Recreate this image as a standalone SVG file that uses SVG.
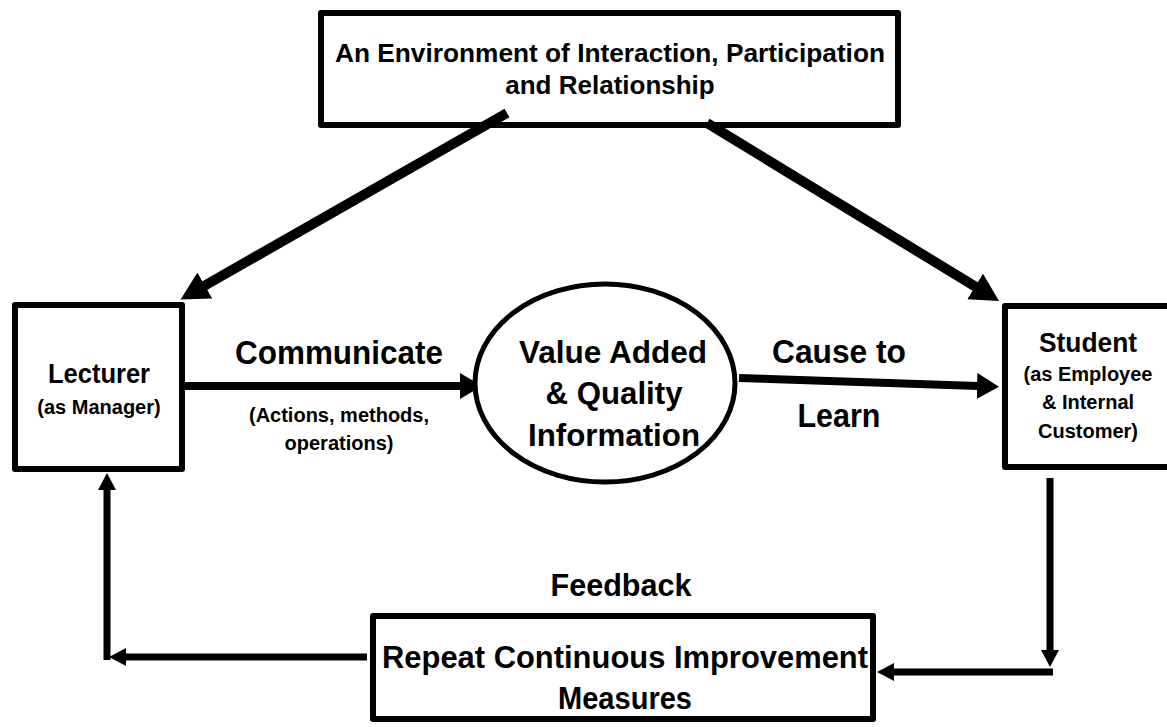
<svg xmlns="http://www.w3.org/2000/svg" width="1167" height="727" viewBox="0 0 1167 727">
  <style>
    .box { fill: #ffffff; stroke: #000000; stroke-width: 6; stroke-linejoin: round; }
    .oval { fill: #ffffff; stroke: #000000; stroke-width: 5; }
    .t { font-family: "Liberation Sans", Arial, sans-serif; font-weight: bold; fill: #000000; text-anchor: middle; }
    .big { font-size: 33px; }
    .mid { font-size: 26px; }
    .sm { font-size: 20px; }
    .conn { fill: none; stroke: #000000; }
    .diag { stroke-width: 10; }
    .main { stroke-width: 8; }
    .fb { stroke-width: 7; }
  </style>
  <defs>
    <marker id="headL" markerUnits="userSpaceOnUse" markerWidth="30" markerHeight="32" refX="1" refY="15" orient="auto">
      <path d="M0,0 L28,15 L0,30 Z" fill="#000000"/>
    </marker>
    <marker id="headM" markerUnits="userSpaceOnUse" markerWidth="24" markerHeight="28" refX="1" refY="13" orient="auto">
      <path d="M0,0 L22,13 L0,26 Z" fill="#000000"/>
    </marker>
    <marker id="headS" markerUnits="userSpaceOnUse" markerWidth="19" markerHeight="20" refX="1" refY="9" orient="auto">
      <path d="M0,0 L17,9 L0,18 Z" fill="#000000"/>
    </marker>
  </defs>

  <g id="environment">
    <rect class="box" x="321" y="13" width="577" height="112"/>
    <text class="t mid" x="610" y="62" textLength="550" lengthAdjust="spacingAndGlyphs">An Environment of Interaction, Participation</text>
    <text class="t mid" x="610" y="94">and Relationship</text>
  </g>

  <g id="connectors">
    <line class="conn diag" x1="507" y1="113" x2="204" y2="286" marker-end="url(#headL)"/>
    <line class="conn diag" x1="707" y1="123" x2="976" y2="287" marker-end="url(#headL)"/>
    <line class="conn main" x1="183" y1="386" x2="461" y2="386" marker-end="url(#headM)"/>
    <line class="conn main" x1="739" y1="378" x2="978" y2="386" marker-end="url(#headM)"/>
    <line class="conn fb" x1="1050" y1="478" x2="1050" y2="651" marker-end="url(#headS)"/>
    <line class="conn fb" x1="1053" y1="672" x2="893" y2="672" marker-end="url(#headS)"/>
    <line class="conn fb" x1="367" y1="657" x2="125" y2="657" marker-end="url(#headS)"/>
    <line class="conn fb" x1="107" y1="660" x2="107" y2="489" marker-end="url(#headS)"/>
  </g>

  <g id="lecturer">
    <rect class="box" x="15" y="305" width="167" height="164"/>
    <text class="t" x="99" y="383" font-size="27" textLength="102" lengthAdjust="spacingAndGlyphs">Lecturer</text>
    <text class="t sm" x="99" y="414">(as Manager)</text>
  </g>

  <g id="communicate-label">
    <text class="t big" x="339" y="364" textLength="208" lengthAdjust="spacingAndGlyphs">Communicate</text>
    <text class="t sm" x="339" y="422">(Actions, methods,</text>
    <text class="t sm" x="339" y="450">operations)</text>
  </g>

  <g id="value-added">
    <ellipse class="oval" cx="605" cy="383" rx="130" ry="99"/>
    <text class="t" x="613" y="363" font-size="32" textLength="188" lengthAdjust="spacingAndGlyphs">Value Added</text>
    <text class="t" x="614" y="404" font-size="32" textLength="137" lengthAdjust="spacingAndGlyphs">&amp; Quality</text>
    <text class="t" x="614" y="446" font-size="32" textLength="172" lengthAdjust="spacingAndGlyphs">Information</text>
  </g>

  <g id="cause-label">
    <text class="t big" x="839" y="363" textLength="134" lengthAdjust="spacingAndGlyphs">Cause to</text>
    <text class="t big" x="839" y="427" textLength="83" lengthAdjust="spacingAndGlyphs">Learn</text>
  </g>

  <g id="student">
    <rect class="box" x="1005" y="306" width="170" height="161"/>
    <text class="t" x="1088" y="352" font-size="27" textLength="98" lengthAdjust="spacingAndGlyphs">Student</text>
    <text class="t sm" x="1088" y="381">(as Employee</text>
    <text class="t sm" x="1088" y="409">&amp; Internal</text>
    <text class="t sm" x="1088" y="438">Customer)</text>
  </g>

  <g id="feedback-label">
    <text class="t" x="621" y="596" font-size="31" textLength="141" lengthAdjust="spacingAndGlyphs">Feedback</text>
  </g>

  <g id="improvement">
    <rect class="box" x="373" y="616" width="500" height="103"/>
    <text class="t" x="625" y="668" font-size="32" textLength="486" lengthAdjust="spacingAndGlyphs">Repeat Continuous Improvement</text>
    <text class="t" x="625" y="709" font-size="32" textLength="134" lengthAdjust="spacingAndGlyphs">Measures</text>
  </g>
</svg>
